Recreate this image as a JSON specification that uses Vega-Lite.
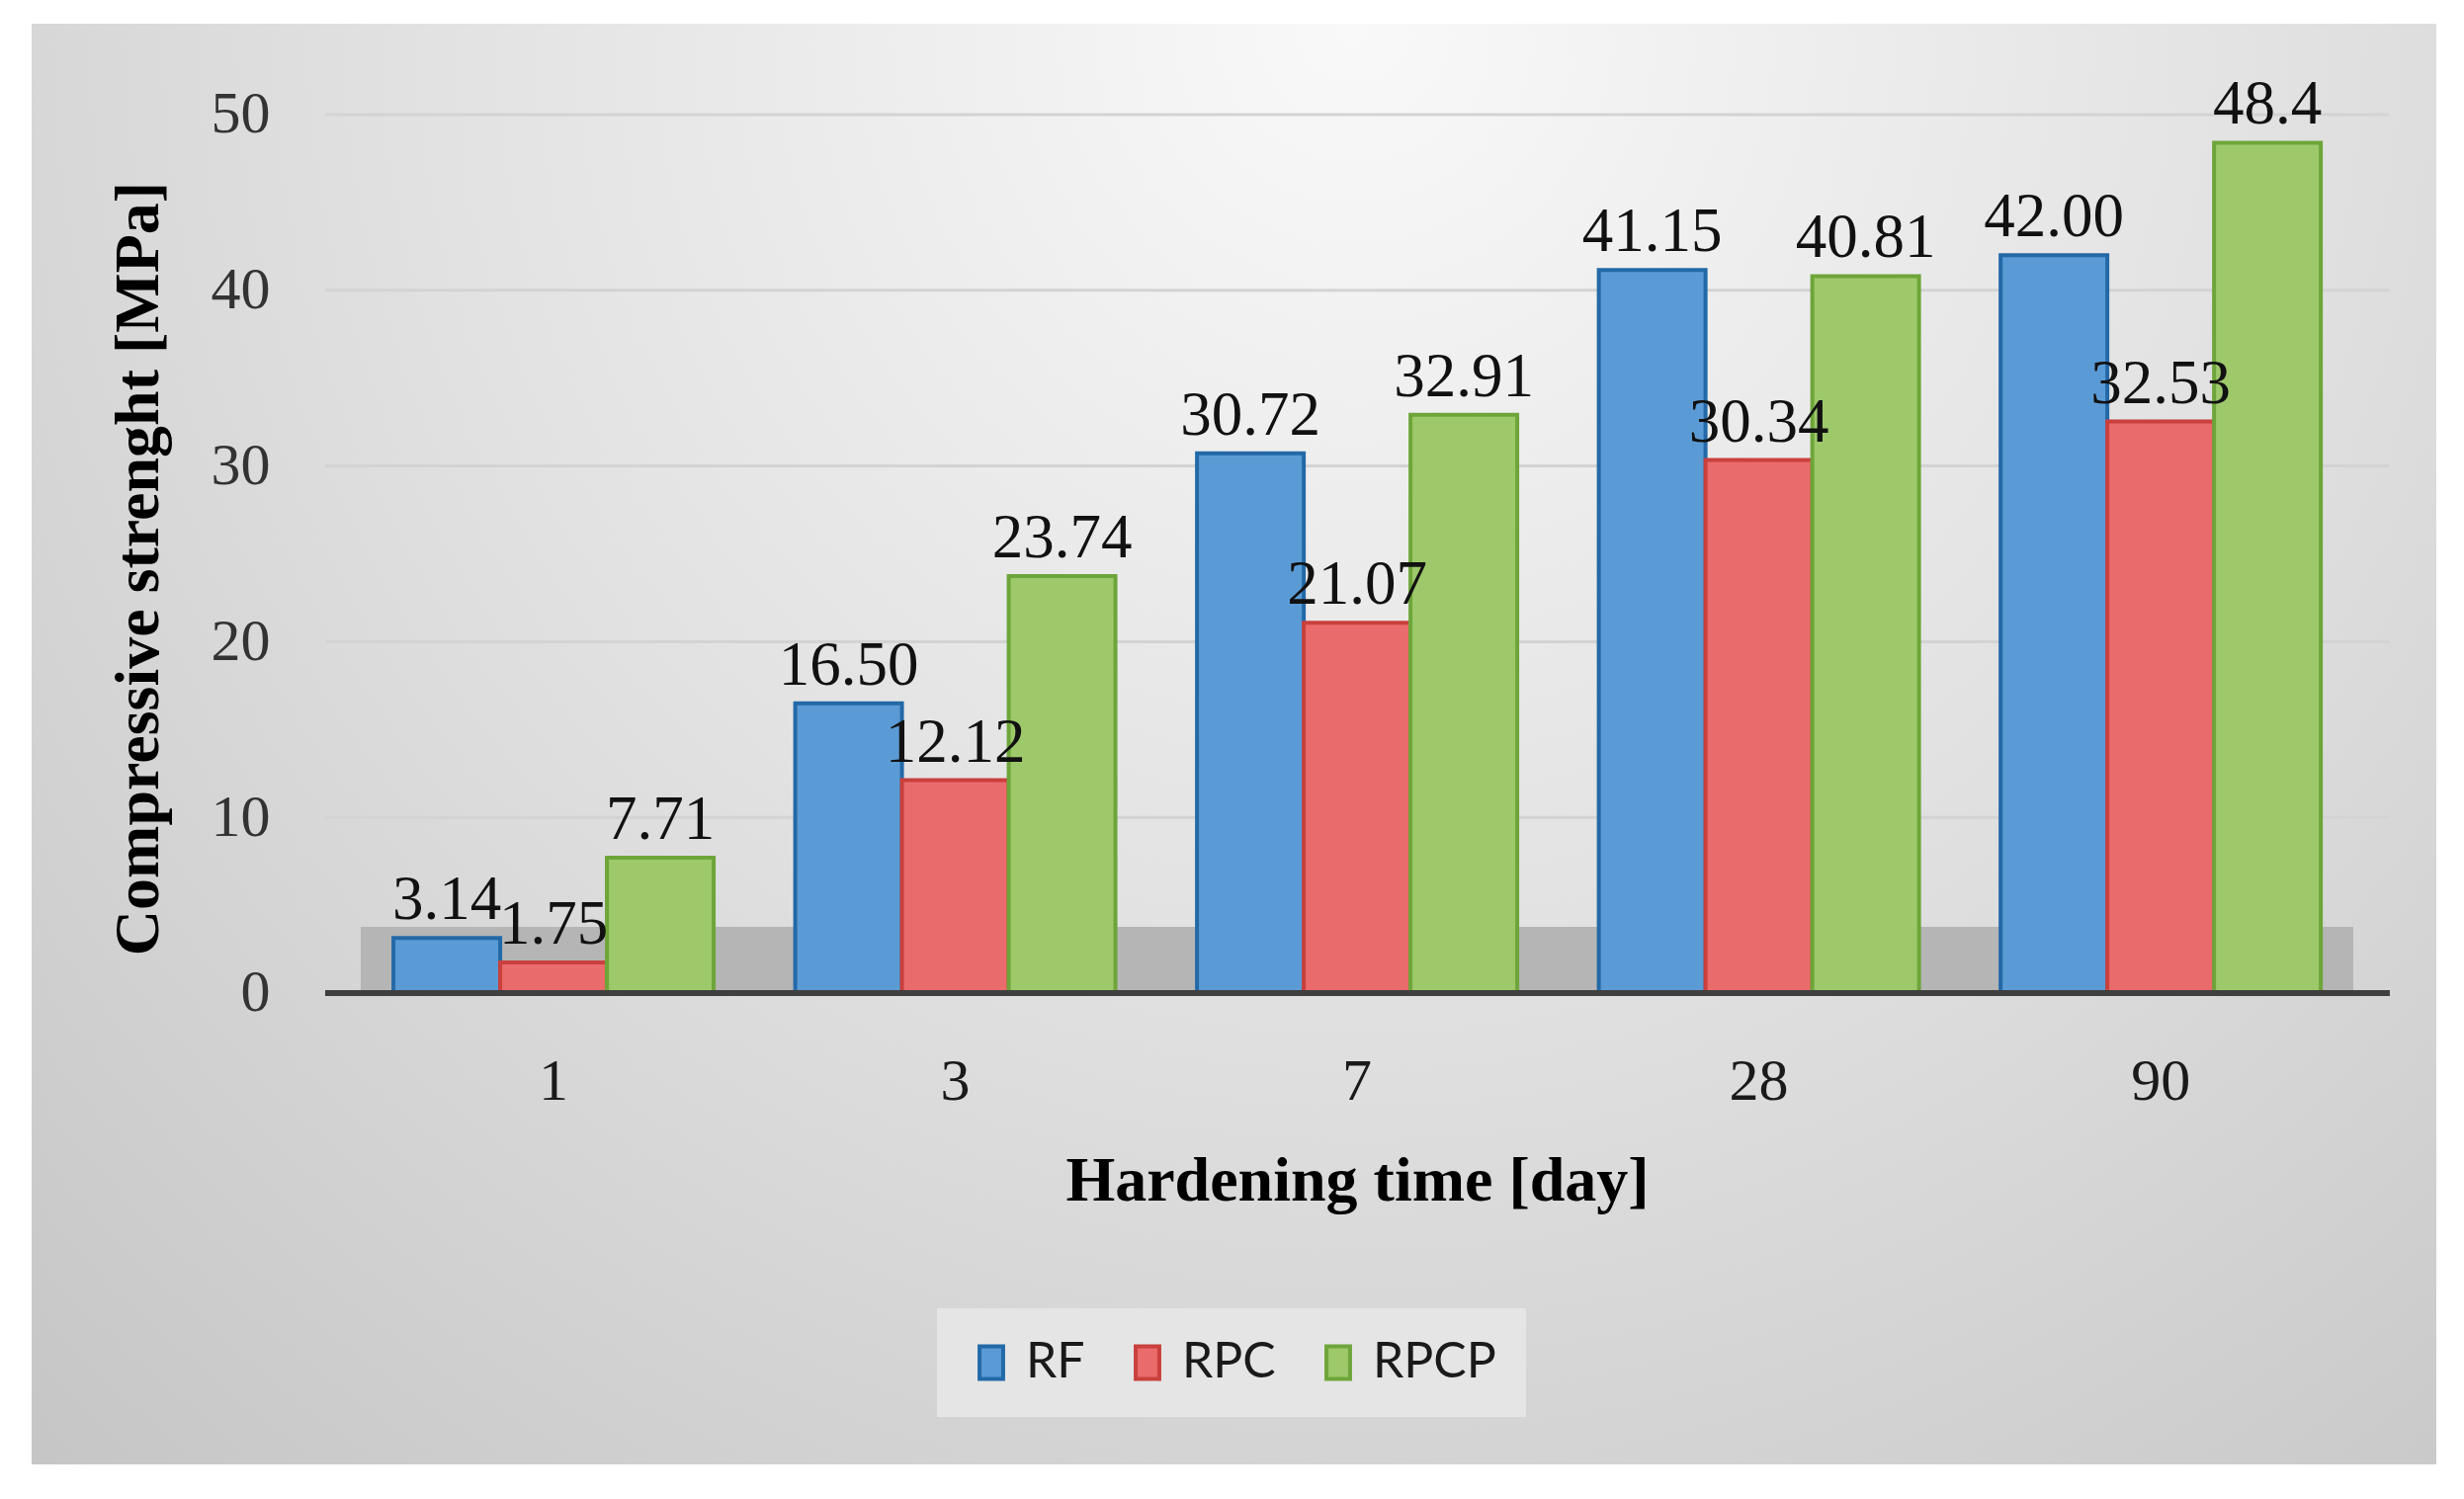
{
  "$schema": "https://vega.github.io/schema/vega-lite/v6.json",
  "width": 2433,
  "height": 1458,
  "autosize": {"type": "none"},
  "padding": {"left": 32, "top": 24, "right": 28, "bottom": 35},
  "background": "#ffffff",
  "view": {
    "stroke": null,
    "fill": {
      "gradient": "radial",
      "x1": 0.55, "y1": 0.2, "r1": 0,
      "x2": 0.55, "y2": 0.2, "r2": 0.85,
      "stops": [
        {"offset": 0, "color": "#f9f9f9"},
        {"offset": 0.45, "color": "#e2e2e2"},
        {"offset": 1, "color": "#c3c3c3"}
      ]
    }
  },
  "data": {
    "values": [
      {"day": "1", "series": "RF", "value": 3.14, "label": "3.14"},
      {"day": "1", "series": "RPC", "value": 1.75, "label": "1.75"},
      {"day": "1", "series": "RPCP", "value": 7.71, "label": "7.71"},
      {"day": "3", "series": "RF", "value": 16.5, "label": "16.50"},
      {"day": "3", "series": "RPC", "value": 12.12, "label": "12.12"},
      {"day": "3", "series": "RPCP", "value": 23.74, "label": "23.74"},
      {"day": "7", "series": "RF", "value": 30.72, "label": "30.72"},
      {"day": "7", "series": "RPC", "value": 21.07, "label": "21.07"},
      {"day": "7", "series": "RPCP", "value": 32.91, "label": "32.91"},
      {"day": "28", "series": "RF", "value": 41.15, "label": "41.15"},
      {"day": "28", "series": "RPC", "value": 30.34, "label": "30.34"},
      {"day": "28", "series": "RPCP", "value": 40.81, "label": "40.81"},
      {"day": "90", "series": "RF", "value": 42.0, "label": "42.00"},
      {"day": "90", "series": "RPC", "value": 32.53, "label": "32.53"},
      {"day": "90", "series": "RPCP", "value": 48.4, "label": "48.4"}
    ]
  },
  "layer": [
    {
      "mark": {"type": "rule", "color": "#b5b5b5", "strokeWidth": 67, "strokeCap": "butt"},
      "encoding": {
        "y": {"datum": 1.88, "type": "quantitative"},
        "x": {"datum": "1", "type": "nominal", "bandPosition": -0.1},
        "x2": {"datum": "90", "bandPosition": 1.1}
      }
    },
    {
      "data": {"values": [{"g": 10}, {"g": 20}, {"g": 30}, {"g": 40}, {"g": 50}]},
      "mark": {"type": "rule", "color": "#d3d3d3", "strokeWidth": 3},
      "encoding": {
        "y": {"field": "g", "type": "quantitative"},
        "x": {"datum": "1", "type": "nominal", "bandPosition": -0.213},
        "x2": {"datum": "90", "bandPosition": 1.213}
      }
    },
    {
      "mark": {"type": "bar", "strokeWidth": 4},
      "encoding": {
        "x": {
          "field": "day",
          "type": "nominal",
          "scale": {
            "domain": ["1", "3", "7", "28", "90"],
            "paddingInner": 0.203,
            "paddingOuter": 0.594,
            "align": 0.758
          },
          "axis": {
            "title": "Hardening time [day]",
            "orient": "bottom",
            "offset": -477,
            "domain": false,
            "ticks": false,
            "grid": false,
            "labelAngle": 0,
            "labelAlign": "center",
            "labelBaseline": "top",
            "labelPadding": 60,
            "labelFont": "Liberation Serif",
            "labelFontSize": 60,
            "labelColor": "#1a1a1a",
            "titleFont": "Liberation Serif",
            "titleFontSize": 64,
            "titleFontWeight": "bold",
            "titleColor": "#000000",
            "titlePadding": 39,
            "titleX": 1341
          }
        },
        "xOffset": {
          "field": "series",
          "type": "nominal",
          "scale": {"domain": ["RF", "RPC", "RPCP"], "paddingInner": 0, "paddingOuter": 0}
        },
        "y": {
          "field": "value",
          "type": "quantitative",
          "scale": {"domain": [-26.828, 55.174], "nice": false, "zero": false},
          "axis": {
            "title": "Compressive strenght [MPa]",
            "values": [0, 10, 20, 30, 40, 50],
            "offset": -297,
            "domain": false,
            "ticks": false,
            "grid": false,
            "labelPadding": 56,
            "labelFont": "Liberation Serif",
            "labelFontSize": 60,
            "labelColor": "#333333",
            "titleFont": "Liberation Serif",
            "titleFontSize": 64,
            "titleFontWeight": "bold",
            "titleColor": "#000000",
            "titlePadding": 41,
            "titleY": 551
          }
        },
        "y2": {"datum": 0},
        "fill": {
          "field": "series",
          "type": "nominal",
          "scale": {"domain": ["RF", "RPC", "RPCP"], "range": ["#5b9bd5", "#ea6b6b", "#9dc96b"]},
          "legend": {
            "orient": "none",
            "legendX": 916,
            "legendY": 1300,
            "direction": "horizontal",
            "title": null,
            "fillColor": "#e5e5e5",
            "padding": 30,
            "labelFont": "Lato",
            "labelFontSize": 50,
            "labelColor": "#1a1a1a",
            "labelOffset": 10,
            "columnPadding": 38,
            "symbolType": "M-0.72,-1H0.72V1H-0.72Z",
            "symbolSize": 1100,
            "symbolStrokeWidth": 4
          }
        },
        "stroke": {
          "field": "series",
          "type": "nominal",
          "scale": {"domain": ["RF", "RPC", "RPCP"], "range": ["#2369a8", "#c9403d", "#6ea53a"]}
        }
      }
    },
    {
      "mark": {"type": "text", "font": "Liberation Serif", "fontSize": 63, "dy": -38, "color": "#111111"},
      "encoding": {
        "x": {"field": "day", "type": "nominal"},
        "xOffset": {"field": "series", "type": "nominal"},
        "y": {"field": "value", "type": "quantitative"},
        "text": {"field": "label", "type": "nominal"}
      }
    },
    {
      "mark": {"type": "rule", "color": "#3f3f3f", "strokeWidth": 6},
      "encoding": {
        "y": {"datum": 0, "type": "quantitative"},
        "x": {"datum": "1", "type": "nominal", "bandPosition": -0.213},
        "x2": {"datum": "90", "bandPosition": 1.213}
      }
    }
  ]
}
